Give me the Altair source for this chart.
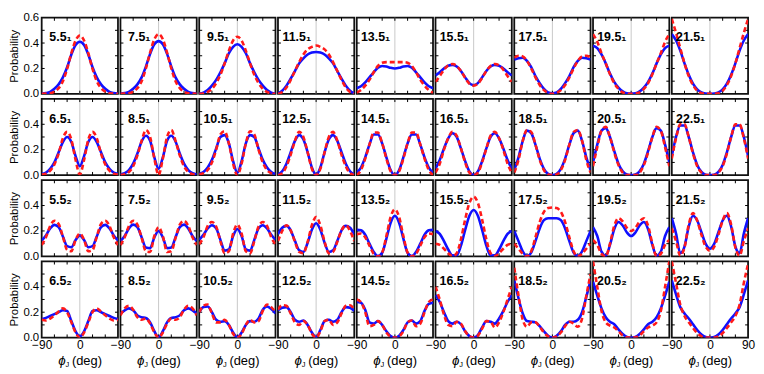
import altair as alt
import pandas as pd

# ---------------- data ----------------
phi = [-90, -80, -70, -60, -50, -40, -30, -20, -10, 0, 10, 20, 30, 40, 50, 60, 70, 80, 90]
tick_x = [-60, -30, 0, 30, 60]
tick_y = [0.1, 0.2, 0.3, 0.4, 0.5]
x_label_values = [-90, 0, 90]
y_label_values = [0.0, 0.2, 0.4, 0.6]

labels_row1 = ["5.5₁", "7.5₁", "9.5₁", "11.5₁", "13.5₁", "15.5₁", "17.5₁", "19.5₁", "21.5₁"]
labels_row2 = ["6.5₁", "8.5₁", "10.5₁", "12.5₁", "14.5₁", "16.5₁", "18.5₁", "20.5₁", "22.5₁"]
labels_row3 = ["5.5₂", "7.5₂", "9.5₂", "11.5₂", "13.5₂", "15.5₂", "17.5₂", "19.5₂", "21.5₂"]
labels_row4 = ["6.5₂", "8.5₂", "10.5₂", "12.5₂", "14.5₂", "16.5₂", "18.5₂", "20.5₂", "22.5₂"]

# row 1
b551 = [0.003,0.006,0.015,0.04,0.075,0.13,0.21,0.31,0.385,0.41,0.385,0.31,0.21,0.13,0.075,0.04,0.015,0.006,0.003]
r551 = [0.0,0.002,0.005,0.018,0.045,0.1,0.196,0.32,0.42,0.46,0.42,0.32,0.196,0.1,0.045,0.018,0.005,0.002,0.0]
b751 = [0.003,0.006,0.015,0.04,0.075,0.13,0.215,0.315,0.39,0.415,0.39,0.315,0.215,0.13,0.075,0.04,0.015,0.006,0.003]
r751 = [0.0,0.002,0.005,0.018,0.045,0.1,0.2,0.325,0.43,0.47,0.43,0.325,0.2,0.1,0.045,0.018,0.005,0.002,0.0]
b951 = [0.003,0.01,0.03,0.065,0.11,0.17,0.24,0.32,0.37,0.39,0.37,0.32,0.24,0.17,0.11,0.065,0.03,0.01,0.003]
r951 = [0.0,0.003,0.015,0.04,0.085,0.15,0.24,0.34,0.42,0.45,0.42,0.34,0.24,0.15,0.085,0.04,0.015,0.003,0.0]
b1151 = [0.005,0.025,0.065,0.12,0.18,0.24,0.28,0.31,0.325,0.33,0.325,0.31,0.28,0.24,0.18,0.12,0.065,0.025,0.005]
r1151 = [0.0,0.015,0.05,0.11,0.18,0.25,0.31,0.35,0.37,0.38,0.37,0.35,0.31,0.25,0.18,0.11,0.05,0.015,0.0]
b1351 = [0.045,0.06,0.09,0.13,0.17,0.205,0.22,0.215,0.205,0.2,0.205,0.215,0.22,0.205,0.17,0.13,0.09,0.06,0.045]
r1351 = [0.01,0.03,0.065,0.11,0.17,0.22,0.245,0.25,0.25,0.25,0.25,0.25,0.245,0.22,0.17,0.11,0.065,0.03,0.01]
b1551 = [0.145,0.17,0.2,0.222,0.228,0.215,0.18,0.13,0.085,0.07,0.085,0.13,0.18,0.215,0.228,0.222,0.2,0.17,0.145]
r1551 = [0.095,0.14,0.19,0.225,0.235,0.22,0.18,0.125,0.08,0.065,0.08,0.125,0.18,0.22,0.235,0.225,0.19,0.14,0.095]
b1751 = [0.27,0.28,0.285,0.26,0.21,0.14,0.085,0.04,0.012,0.005,0.012,0.04,0.085,0.14,0.21,0.26,0.285,0.28,0.27]
r1751 = [0.285,0.3,0.295,0.26,0.2,0.13,0.07,0.03,0.008,0.0,0.008,0.03,0.07,0.13,0.2,0.26,0.295,0.3,0.285]
b1951 = [0.38,0.36,0.31,0.24,0.16,0.095,0.05,0.02,0.005,0.002,0.005,0.02,0.05,0.095,0.16,0.24,0.31,0.36,0.38]
r1951 = [0.47,0.41,0.32,0.24,0.155,0.085,0.04,0.012,0.003,0.0,0.003,0.012,0.04,0.085,0.155,0.24,0.32,0.41,0.47]
b2151 = [0.47,0.42,0.34,0.24,0.15,0.08,0.035,0.012,0.003,0.0,0.003,0.012,0.035,0.08,0.15,0.24,0.34,0.42,0.47]
r2151 = [0.59,0.48,0.36,0.24,0.14,0.07,0.025,0.006,0.001,0.0,0.001,0.006,0.025,0.07,0.14,0.24,0.36,0.48,0.59]

# row 2
b651 = [0.01,0.02,0.05,0.1,0.18,0.26,0.3,0.26,0.15,0.07,0.15,0.26,0.3,0.26,0.18,0.1,0.05,0.02,0.01]
r651 = [0.005,0.012,0.035,0.085,0.17,0.29,0.34,0.28,0.12,0.005,0.12,0.28,0.34,0.29,0.17,0.085,0.035,0.012,0.005]
b851 = [0.005,0.015,0.04,0.09,0.17,0.265,0.31,0.27,0.14,0.05,0.14,0.27,0.31,0.265,0.17,0.09,0.04,0.015,0.005]
r851 = [0.002,0.008,0.025,0.07,0.155,0.27,0.355,0.3,0.13,0.0,0.13,0.3,0.355,0.27,0.155,0.07,0.025,0.008,0.002]
b1051 = [0.01,0.025,0.06,0.12,0.21,0.3,0.315,0.25,0.11,0.02,0.11,0.25,0.315,0.3,0.21,0.12,0.06,0.025,0.01]
r1051 = [0.005,0.015,0.04,0.1,0.2,0.32,0.345,0.25,0.09,0.0,0.09,0.25,0.345,0.32,0.2,0.1,0.04,0.015,0.005]
b1251 = [0.005,0.03,0.09,0.18,0.27,0.315,0.28,0.18,0.06,0.002,0.06,0.18,0.28,0.315,0.27,0.18,0.09,0.03,0.005]
r1251 = [0.0,0.015,0.07,0.16,0.27,0.34,0.3,0.18,0.05,0.0,0.05,0.18,0.3,0.34,0.27,0.16,0.07,0.015,0.0]
b1451 = [0.02,0.06,0.14,0.24,0.32,0.32,0.25,0.14,0.04,0.0,0.04,0.14,0.25,0.32,0.32,0.24,0.14,0.06,0.02]
r1451 = [0.0,0.04,0.13,0.24,0.335,0.335,0.25,0.13,0.03,0.0,0.03,0.13,0.25,0.335,0.335,0.24,0.13,0.04,0.0]
b1651 = [0.05,0.12,0.21,0.29,0.33,0.3,0.21,0.11,0.03,0.0,0.03,0.11,0.21,0.3,0.33,0.29,0.21,0.12,0.05]
r1651 = [0.02,0.09,0.2,0.29,0.34,0.31,0.21,0.1,0.02,0.0,0.02,0.1,0.21,0.31,0.34,0.29,0.2,0.09,0.02]
b1851 = [0.04,0.14,0.27,0.35,0.33,0.24,0.13,0.05,0.01,0.0,0.01,0.05,0.13,0.24,0.33,0.35,0.27,0.14,0.04]
r1851 = [0.02,0.12,0.27,0.355,0.34,0.24,0.12,0.04,0.005,0.0,0.005,0.04,0.12,0.24,0.34,0.355,0.27,0.12,0.02]
b2051 = [0.1,0.24,0.35,0.37,0.3,0.19,0.09,0.03,0.005,0.0,0.005,0.03,0.09,0.19,0.3,0.37,0.35,0.24,0.1]
r2051 = [0.07,0.22,0.35,0.38,0.3,0.18,0.08,0.02,0.0,0.0,0.0,0.02,0.08,0.18,0.3,0.38,0.35,0.22,0.07]
b2251 = [0.15,0.3,0.39,0.39,0.3,0.18,0.08,0.025,0.004,0.0,0.004,0.025,0.08,0.18,0.3,0.39,0.39,0.3,0.15]
r2251 = [0.13,0.29,0.4,0.4,0.3,0.17,0.07,0.02,0.0,0.0,0.0,0.02,0.07,0.17,0.3,0.4,0.4,0.29,0.13]

# row 3
b552 = [0.125,0.165,0.22,0.248,0.23,0.157,0.08,0.072,0.128,0.165,0.128,0.072,0.08,0.157,0.23,0.248,0.22,0.165,0.125]
r552 = [0.09,0.15,0.24,0.28,0.255,0.155,0.05,0.04,0.13,0.18,0.13,0.04,0.05,0.155,0.255,0.28,0.24,0.15,0.09]
b752 = [0.12,0.16,0.22,0.25,0.23,0.15,0.07,0.065,0.15,0.2,0.15,0.065,0.07,0.15,0.23,0.25,0.22,0.16,0.12]
r752 = [0.09,0.15,0.24,0.28,0.25,0.145,0.04,0.035,0.16,0.23,0.16,0.035,0.04,0.145,0.25,0.28,0.24,0.15,0.09]
b952 = [0.13,0.17,0.22,0.245,0.22,0.13,0.045,0.055,0.16,0.215,0.16,0.055,0.045,0.13,0.22,0.245,0.22,0.17,0.13]
r952 = [0.095,0.15,0.24,0.27,0.235,0.12,0.025,0.04,0.18,0.25,0.18,0.04,0.025,0.12,0.235,0.27,0.24,0.15,0.095]
b1152 = [0.175,0.225,0.24,0.205,0.122,0.048,0.035,0.107,0.21,0.26,0.21,0.107,0.035,0.048,0.122,0.205,0.24,0.225,0.175]
r1152 = [0.12,0.2,0.245,0.205,0.115,0.035,0.025,0.115,0.245,0.31,0.245,0.115,0.025,0.035,0.115,0.205,0.245,0.2,0.12]
b1352 = [0.21,0.205,0.17,0.1,0.035,0.002,0.028,0.14,0.265,0.32,0.265,0.14,0.028,0.002,0.035,0.1,0.17,0.205,0.21]
r1352 = [0.175,0.18,0.15,0.085,0.02,0.0,0.03,0.16,0.31,0.37,0.31,0.16,0.03,0.0,0.02,0.085,0.15,0.18,0.175]
b1552 = [0.2,0.177,0.12,0.054,0.008,0.007,0.084,0.208,0.32,0.365,0.32,0.208,0.084,0.007,0.008,0.054,0.12,0.177,0.2]
r1552 = [0.1,0.09,0.06,0.025,0.002,0.025,0.134,0.29,0.42,0.47,0.42,0.29,0.134,0.025,0.002,0.025,0.06,0.09,0.1]
b1752 = [0.2,0.12,0.04,0.003,0.03,0.12,0.22,0.285,0.3,0.3,0.3,0.285,0.22,0.12,0.03,0.003,0.04,0.12,0.2]
r1752 = [0.1,0.06,0.02,0.0,0.04,0.15,0.27,0.35,0.38,0.385,0.38,0.35,0.27,0.15,0.04,0.0,0.02,0.06,0.1]
b1952 = [0.23,0.16,0.037,0.005,0.09,0.213,0.27,0.243,0.188,0.16,0.188,0.243,0.27,0.213,0.09,0.005,0.037,0.16,0.23]
r1952 = [0.13,0.09,0.02,0.0,0.1,0.24,0.3,0.275,0.225,0.2,0.225,0.275,0.3,0.24,0.1,0.0,0.02,0.09,0.13]
b2152 = [0.3,0.18,0.025,0.077,0.235,0.32,0.282,0.19,0.098,0.06,0.098,0.19,0.282,0.32,0.235,0.077,0.025,0.18,0.3]
r2152 = [0.22,0.12,0.005,0.07,0.25,0.34,0.28,0.17,0.075,0.045,0.075,0.17,0.28,0.34,0.25,0.07,0.005,0.12,0.22]

# row 4
b652 = [0.145,0.155,0.17,0.185,0.2,0.215,0.21,0.13,0.05,0.01,0.05,0.13,0.21,0.215,0.2,0.185,0.17,0.155,0.145]
r652 = [0.14,0.135,0.15,0.175,0.205,0.23,0.2,0.12,0.04,0.0,0.04,0.12,0.2,0.23,0.205,0.175,0.15,0.135,0.14]
b852 = [0.19,0.215,0.23,0.215,0.175,0.16,0.155,0.12,0.05,0.003,0.05,0.12,0.155,0.16,0.175,0.215,0.23,0.215,0.19]
r852 = [0.175,0.23,0.25,0.22,0.16,0.14,0.15,0.11,0.04,0.0,0.04,0.11,0.15,0.14,0.16,0.22,0.25,0.23,0.175]
b1052 = [0.2,0.24,0.245,0.2,0.14,0.125,0.13,0.1,0.04,0.003,0.04,0.1,0.13,0.125,0.15,0.22,0.245,0.225,0.19]
r1052 = [0.2,0.25,0.26,0.19,0.12,0.12,0.14,0.1,0.03,0.0,0.03,0.1,0.14,0.12,0.13,0.21,0.26,0.24,0.2]
b1252 = [0.215,0.235,0.24,0.2,0.14,0.125,0.135,0.1,0.04,0.003,0.06,0.13,0.14,0.125,0.14,0.2,0.24,0.235,0.21]
r1252 = [0.22,0.255,0.25,0.19,0.12,0.1,0.13,0.1,0.03,0.0,0.05,0.13,0.14,0.1,0.12,0.19,0.25,0.255,0.22]
b1452 = [0.28,0.275,0.22,0.12,0.11,0.13,0.1,0.05,0.012,0.0,0.015,0.06,0.12,0.135,0.11,0.13,0.21,0.265,0.275]
r1452 = [0.3,0.28,0.2,0.09,0.1,0.13,0.1,0.04,0.008,0.0,0.01,0.05,0.12,0.135,0.09,0.11,0.2,0.28,0.3]
b1652 = [0.335,0.28,0.2,0.13,0.11,0.125,0.105,0.05,0.012,0.0,0.02,0.08,0.13,0.125,0.11,0.15,0.21,0.28,0.335]
r1652 = [0.4,0.3,0.18,0.1,0.09,0.125,0.11,0.05,0.01,0.0,0.015,0.07,0.13,0.125,0.08,0.12,0.2,0.3,0.4]
b1852 = [0.45,0.31,0.19,0.13,0.125,0.12,0.09,0.05,0.015,0.0,0.015,0.05,0.1,0.125,0.125,0.14,0.2,0.32,0.45]
r1852 = [0.55,0.33,0.14,0.085,0.12,0.12,0.085,0.04,0.01,0.0,0.01,0.04,0.09,0.125,0.11,0.085,0.15,0.33,0.5]
b2052 = [0.44,0.33,0.23,0.16,0.125,0.105,0.065,0.028,0.006,0.0,0.006,0.028,0.065,0.105,0.125,0.16,0.23,0.33,0.44]
r2052 = [0.6,0.4,0.21,0.12,0.095,0.08,0.05,0.018,0.003,0.0,0.003,0.018,0.05,0.08,0.095,0.12,0.21,0.4,0.6]
b2252 = [0.45,0.34,0.24,0.19,0.15,0.105,0.06,0.025,0.005,0.0,0.005,0.025,0.06,0.105,0.15,0.19,0.24,0.34,0.45]
r2252 = [0.6,0.43,0.26,0.17,0.12,0.075,0.035,0.01,0.001,0.0,0.001,0.01,0.035,0.075,0.12,0.17,0.26,0.43,0.58]

grid = [
    list(zip(labels_row1, [b551, b751, b951, b1151, b1351, b1551, b1751, b1951, b2151],
             [r551, r751, r951, r1151, r1351, r1551, r1751, r1951, r2151])),
    list(zip(labels_row2, [b651, b851, b1051, b1251, b1451, b1651, b1851, b2051, b2251],
             [r651, r851, r1051, r1251, r1451, r1651, r1851, r2051, r2251])),
    list(zip(labels_row3, [b552, b752, b952, b1152, b1352, b1552, b1752, b1952, b2152],
             [r552, r752, r952, r1152, r1352, r1552, r1752, r1952, r2152])),
    list(zip(labels_row4, [b652, b852, b1052, b1252, b1452, b1652, b1852, b2052, b2252],
             [r652, r852, r1052, r1252, r1452, r1652, r1852, r2052, r2252])),
]

# ---------------- chart ----------------
W = 77
H = 77
FONT = "Liberation Sans"
sx = alt.Scale(domain=[-90, 90], nice=False, zero=False)
sy = alt.Scale(domain=[0, 0.6], nice=False, zero=False)


def make_panel(i, j, label, blue, red):
    df = pd.DataFrame({"phi": phi, "blue": blue, "red": red})
    if i == 3:
        xaxis = alt.Axis(values=x_label_values,
                         labelExpr=("datum.label" if j == 8 else "datum.value > 80 ? '' : datum.label"),
                         ticks=False, domain=False, grid=False, labelFlush=False,
                         labelPadding=2, labelFontSize=12, title=None)
    else:
        xaxis = None
    if j == 0:
        yaxis = alt.Axis(values=y_label_values, format=".1f",
                         labelExpr=("datum.label" if i == 0 else "datum.value > 0.5 ? '' : datum.label"),
                         ticks=False, domain=False, grid=False, labelFlush=False,
                         labelPadding=3, labelFontSize=11.5, title="Probability",
                         titleFontSize=11.5, titleFontWeight="normal", titlePadding=3)
    else:
        yaxis = None

    center = alt.Chart(pd.DataFrame({"c": [0]})).mark_rule(color="#c8c8c8", strokeWidth=1).encode(
        x=alt.X("c:Q", scale=sx, axis=xaxis))

    tx = alt.Chart(pd.DataFrame({"t": tick_x}))
    ty = alt.Chart(pd.DataFrame({"t": tick_y}))
    tb = tx.mark_rule(color="black", strokeWidth=1).encode(
        x=alt.X("t:Q", scale=sx, axis=xaxis), y=alt.YDatum(0, scale=sy, axis=yaxis), y2=alt.Y2Datum(0.025))
    tt = tx.mark_rule(color="black", strokeWidth=1).encode(
        x=alt.X("t:Q", scale=sx, axis=xaxis), y=alt.YDatum(0.6, scale=sy, axis=yaxis), y2=alt.Y2Datum(0.575))
    tl = ty.mark_rule(color="black", strokeWidth=1).encode(
        y=alt.Y("t:Q", scale=sy, axis=yaxis), x=alt.XDatum(-90, scale=sx, axis=xaxis), x2=alt.X2Datum(-83))
    tr = ty.mark_rule(color="black", strokeWidth=1).encode(
        y=alt.Y("t:Q", scale=sy, axis=yaxis), x=alt.XDatum(90, scale=sx, axis=xaxis), x2=alt.X2Datum(83))

    base = alt.Chart(df)
    bl = base.mark_line(color="#1010ff", strokeWidth=2.6, interpolate="monotone", clip=True).encode(
        x=alt.X("phi:Q", scale=sx, axis=xaxis), y=alt.Y("blue:Q", scale=sy, axis=yaxis))
    rl = base.mark_line(color="#ff1a1a", strokeWidth=2.6, strokeDash=[5, 3], interpolate="monotone", clip=True).encode(
        x=alt.X("phi:Q", scale=sx, axis=xaxis), y=alt.Y("red:Q", scale=sy, axis=yaxis))

    txt = alt.Chart(pd.DataFrame({"lab": [label]})).mark_text(
        align="center", baseline="alphabetic", fontSize=12.5, fontWeight="bold", font=FONT, color="black").encode(
        x=alt.value(19), y=alt.value(24), text="lab:N")

    layers = [center, tb, tt, tl, tr, bl, rl, txt]
    if i == 3:
        t1 = alt.Chart(pd.DataFrame({"s": ["ϕ"]})).mark_text(
            align="center", baseline="alphabetic", fontSize=13.5, fontStyle="italic", font=FONT, color="black").encode(
            x=alt.value(20.5), y=alt.value(105), text="s:N")
        t2 = alt.Chart(pd.DataFrame({"s": ["J"]})).mark_text(
            align="left", baseline="alphabetic", fontSize=7.5, font=FONT, color="black").encode(
            x=alt.value(24), y=alt.value(107), text="s:N")
        t3 = alt.Chart(pd.DataFrame({"s": ["(deg)"]})).mark_text(
            align="left", baseline="alphabetic", fontSize=13, font=FONT, color="black").encode(
            x=alt.value(30.5), y=alt.value(105), text="s:N")
        layers += [t1, t2, t3]
    return alt.layer(*layers).properties(width=W, height=H)


panels = []
for i, row in enumerate(grid):
    for j, (label, blue, red) in enumerate(row):
        panels.append(make_panel(i, j, label, blue, red))

chart = alt.concat(*panels, columns=9, spacing={"row": 5, "column": 2.5}, bounds="flush").properties(
    padding={"left": 0, "top": 1, "right": 0, "bottom": 0}
).configure_view(
    stroke="#111111", strokeWidth=1.8
).configure_axis(
    labelFont=FONT, titleFont=FONT, labelColor="black", titleColor="black"
)

chart.save("out.html", embed_options={"renderer": "svg", "actions": False})
